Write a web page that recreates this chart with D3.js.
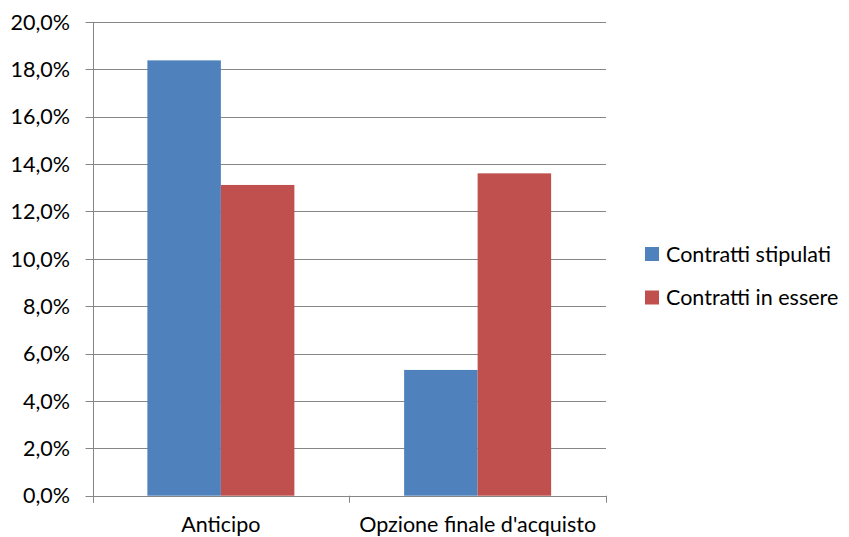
<!DOCTYPE html>
<html><head><meta charset="utf-8">
<script src="https://cdn.jsdelivr.net/npm/d3@7"></script>
<style>body{margin:0;background:#fff}svg{display:block}text{font-family:Lato,"Open Sans",sans-serif;fill:#000}</style>
</head><body>
<svg id="c" width="849" height="537"></svg>
<script>
const categories = ["Anticipo", "Opzione finale d'acquisto"];
const seriesNames = ["Contratti stipulati", "Contratti in essere"];
const stipulati = [18.38, 5.31];
const inEssere = [13.12, 13.61];
const yTicks = [0, 2, 4, 6, 8, 10, 12, 14, 16, 18, 20];
const colors = ["#4F81BD", "#C0504D"];

const FS = 21.5;
const svg = d3.select("#c");
const L = 92.5, R = 606, T = 22, B = 495.7;
const x = d3.scaleBand().domain(categories).range([L, R]).paddingInner(0).paddingOuter(0);
const y = d3.scaleLinear().domain([0, 20]).range([B, T]);
const groupW = 147;
const xs2 = d3.scaleBand().domain(seriesNames).range([(x.bandwidth()-groupW)/2, (x.bandwidth()+groupW)/2]);

// gridlines
svg.append("g").selectAll("line").data(yTicks).join("line")
  .attr("x1", L - 7).attr("x2", R).attr("y1", d => Math.round(y(d)) + 0.5).attr("y2", d => Math.round(y(d)) + 0.5)
  .attr("stroke", "#868686").attr("stroke-width", 1);

// y labels
const fmt = d => d.toFixed(1).replace(".", ",") + "%";
svg.append("g").selectAll("text").data(yTicks).join("text")
  .attr("x", 70).attr("y", d => y(d)).attr("dy", "0.36em").attr("text-anchor", "end")
  .attr("font-size", FS).text(fmt);

// bars
const data = categories.map((c, i) => ({c, vals: [stipulati[i], inEssere[i]]}));
const g = svg.append("g").selectAll("g").data(data).join("g").attr("transform", d => `translate(${x(d.c)},0)`);
g.selectAll("rect").data(d => d.vals.map((v, j) => ({v, s: seriesNames[j], j}))).join("rect")
  .attr("x", d => xs2(d.s)).attr("width", xs2.bandwidth())
  .attr("y", d => y(d.v)).attr("height", d => B - y(d.v))
  .attr("fill", d => colors[d.j]);

// axes lines
svg.append("line").attr("x1", Math.round(L)+0.5).attr("x2", Math.round(L)+0.5).attr("y1", T).attr("y2", B + 7).attr("stroke", "#868686");
svg.append("line").attr("x1", L).attr("x2", R).attr("y1", Math.round(B)+0.5).attr("y2", Math.round(B)+0.5).attr("stroke", "#868686");
const catTicks = [L, ...categories.map(c => x(c) + x.bandwidth())];
svg.append("g").selectAll("line").data(catTicks).join("line")
  .attr("x1", d => Math.round(d)+0.5).attr("x2", d => Math.round(d)+0.5).attr("y1", B).attr("y2", B + 7).attr("stroke", "#868686");

// x labels
svg.append("g").selectAll("text").data(categories).join("text")
  .attr("x", d => x(d) + x.bandwidth()/2).attr("y", 531.5).attr("text-anchor", "middle")
  .attr("font-size", FS).text(d => d);

// legend
const lg = svg.append("g").selectAll("g").data(seriesNames).join("g")
  .attr("transform", (d, i) => `translate(645,${247 + i*43.5})`);
lg.append("rect").attr("width", 14).attr("height", 14).attr("fill", (d, i) => colors[i]);
lg.append("text").attr("x", 21).attr("y", 14.5).attr("font-size", FS).text(d => d);
</script>
</body></html>
